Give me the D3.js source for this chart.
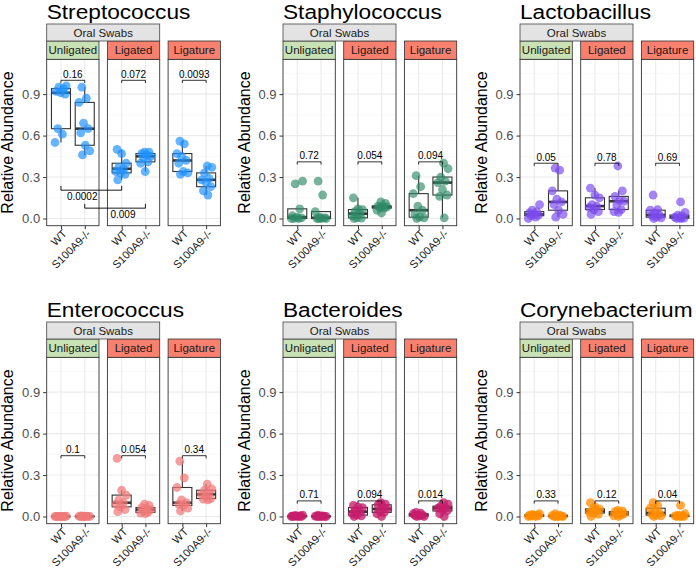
<!DOCTYPE html>
<html><head><meta charset="utf-8">
<script src="https://cdn.jsdelivr.net/npm/d3@7"></script>
<style>
body{margin:0;background:#fff}
text{font-family:"Liberation Sans",Arial,Helvetica,sans-serif}
</style>
</head><body>
<svg id="chart" width="696" height="570"></svg>
<script>
// ---------------- data ----------------
const genera = ["Streptococcus","Staphylococcus","Lactobacillus","Enterococcus","Bacteroides","Corynebacterium"];
const sites = ["Unligated","Ligated","Ligature"];
const genotypes = ["WT","S100A9-/-"];
const yTicks = [0, 0.3, 0.6, 0.9];
const yMinorTicks = [0.15, 0.45, 0.75, 1.05];
const yTickLabels = ["0.0","0.3","0.6","0.9"];

// each genus: groups in order [Unligated WT, Unligated KO, Ligated WT, Ligated KO, Ligature WT, Ligature KO]
const streptococcus = [
  [0.55,0.61,0.65,0.90,0.91,0.92,0.94,0.95,0.96],
  [0.46,0.49,0.53,0.62,0.65,0.69,0.84,0.87,0.95],
  [0.28,0.32,0.33,0.34,0.36,0.37,0.40,0.47,0.50],
  [0.34,0.40,0.41,0.44,0.45,0.46,0.47,0.48,0.48],
  [0.32,0.33,0.34,0.40,0.42,0.45,0.47,0.54,0.56],
  [0.17,0.20,0.23,0.26,0.28,0.29,0.33,0.37,0.38]
];
const staphylococcus = [
  [0,0,0,0.005,0.01,0.02,0.07,0.25,0.27],
  [0,0,0,0,0.005,0.01,0.05,0.17,0.27],
  [0,0.003,0.005,0.02,0.035,0.05,0.065,0.07,0.15],
  [0.04,0.06,0.075,0.08,0.085,0.09,0.09,0.11,0.12],
  [0,0.005,0.01,0.03,0.06,0.09,0.18,0.23,0.31],
  [0.005,0.16,0.17,0.21,0.26,0.27,0.30,0.36,0.40]
];
const lactobacillus = [
  [0,0.01,0.02,0.025,0.03,0.04,0.05,0.06,0.10],
  [0.01,0.03,0.06,0.10,0.12,0.14,0.20,0.35,0.365],
  [0.03,0.05,0.065,0.08,0.09,0.10,0.15,0.17,0.22],
  [0.045,0.05,0.065,0.10,0.125,0.13,0.16,0.20,0.38],
  [0,0.005,0.01,0.02,0.025,0.04,0.06,0.065,0.17],
  [0,0,0.003,0.005,0.01,0.02,0.025,0.045,0.12]
];
const enterococcus = [
  [0,0,0,0,0,0,0,0,0.003],
  [0,0,0,0,0,0,0.002,0.003,0.005],
  [0.035,0.05,0.07,0.09,0.10,0.12,0.155,0.19,0.42],
  [0.02,0.025,0.03,0.04,0.05,0.055,0.065,0.08,0.09],
  [0.04,0.06,0.08,0.09,0.10,0.12,0.21,0.28,0.40],
  [0.12,0.125,0.13,0.15,0.16,0.17,0.19,0.20,0.235]
];
const bacteroides = [
  [0,0,0,0,0.002,0.003,0.005,0.008,0.01],
  [0,0,0,0,0,0.002,0.003,0.005,0.01],
  [0,0.005,0.01,0.02,0.035,0.04,0.065,0.07,0.08],
  [0,0.02,0.03,0.04,0.055,0.07,0.085,0.09,0.10],
  [0,0,0.005,0.008,0.01,0.012,0.02,0.025,0.03],
  [0,0.02,0.04,0.05,0.06,0.065,0.075,0.09,0.10]
];
const corynebacterium = [
  [0,0,0.003,0.005,0.008,0.01,0.012,0.015,0.02],
  [0,0,0,0,0.003,0.005,0.008,0.01,0.02],
  [0,0.015,0.025,0.03,0.04,0.045,0.055,0.07,0.10],
  [0,0.005,0.01,0.015,0.02,0.025,0.035,0.04,0.045],
  [0,0.005,0.01,0.015,0.025,0.04,0.06,0.08,0.10],
  [0,0,0,0.003,0.005,0.008,0.01,0.02,0.08]
];
const pStreptococcus = ["0.16","0.072","0.0093"];
const pStaphylococcus = ["0.72","0.054","0.094"];
const pLactobacillus = ["0.05","0.78","0.69"];
const pEnterococcus = ["0.1","0.054","0.34"];
const pBacteroides = ["0.71","0.094","0.014"];
const pCorynebacterium = ["0.33","0.12","0.04"];
const bracketHeights = [1.0, 0.41, 0.40, 0.44, 0.113, 0.113];
// cross-site comparisons (Streptococcus): Unligated vs Ligated, same genotype
const crossP = ["0.0002","0.009"];
const crossHeights = [0.205, 0.075];
const crossGenotype = ["WT","S100A9-/-"];

// ---------------- styles ----------------
const values = [streptococcus, staphylococcus, lactobacillus, enterococcus, bacteroides, corynebacterium];
const pvals = [pStreptococcus, pStaphylococcus, pLactobacillus, pEnterococcus, pBacteroides, pCorynebacterium];
const pointColors = ["#1E90FF","#2E8B67","#7A4AEE","#F07878","#C71E6C","#FF8C00"];
const pointOpacity = [0.68,0.65,0.68,0.72,0.78,0.75];
const siteFill = {"Unligated":"#c8e1b5","Ligated":"#f8806f","Ligature":"#f8806f"};

const colLeft = [46.7, 283, 520];
const rowTop = [59.3, 357.3];
const panelW = 52.3, gap = 8.4, panelH = 166.4;

const svg = d3.select("#chart");
svg.append("rect").attr("width",696).attr("height",570).attr("fill","#fff");

function boxStats(arr){
  const s = arr.slice().sort(d3.ascending);
  const q1 = d3.quantile(s,0.25), med = d3.quantile(s,0.5), q3 = d3.quantile(s,0.75);
  const iqr = q3 - q1;
  const lo = d3.min(s.filter(v => v >= q1 - 1.5*iqr));
  const hi = d3.max(s.filter(v => v <= q3 + 1.5*iqr));
  return {q1, med, q3, lo, hi};
}

genera.forEach((genus, gi) => {
  const col = gi % 3, row = Math.floor(gi / 3);
  const left = colLeft[col], top = rowTop[row];
  const y = d3.scaleLinear().domain([-0.052, 1.152]).range([top + panelH, top]);
  const g = svg.append("g");

  // title
  g.append("text").attr("transform", `translate(${left},${top - 40}) scale(1.08,1)`)
    .attr("font-size", 21).attr("fill", "#000").text(genus);

  // y axis
  const yAxis = d3.axisLeft(y).tickValues(yTicks).tickFormat((d,i) => yTickLabels[i]).tickSize(3.5).tickPadding(3);
  const ya = g.append("g").attr("transform", `translate(${left},0)`).call(yAxis);
  ya.select(".domain").remove();
  ya.selectAll(".tick line").attr("stroke", "#333").attr("stroke-width", 1);
  ya.selectAll(".tick text").attr("font-size", 13).attr("fill", "#4d4d4d")
    .style("font-family", '"Liberation Sans",Arial,sans-serif');

  g.append("text")
    .attr("transform", `translate(${left - 33.4},${top + panelH/2}) rotate(-90)`)
    .attr("text-anchor", "middle").attr("font-size", 16).attr("fill", "#000")
    .text("Relative Abundance");

  const xScales = [];
  sites.forEach((site, si) => {
    const pl = left + si * (panelW + gap);
    const x = d3.scalePoint().domain(genotypes).range([pl, pl + panelW]).padding(0.6);
    xScales.push(x);
    const step = x.step();
    const pg = g.append("g");

    // background & grid
    pg.append("rect").attr("x", pl).attr("y", top).attr("width", panelW).attr("height", panelH).attr("fill", "#fff");
    pg.selectAll(".minor").data(yMinorTicks).join("line")
      .attr("x1", pl).attr("x2", pl + panelW).attr("y1", d => y(d)).attr("y2", d => y(d))
      .attr("stroke", "#f3f3f3").attr("stroke-width", 0.6);
    pg.selectAll(".major").data(yTicks).join("line")
      .attr("x1", pl).attr("x2", pl + panelW).attr("y1", d => y(d)).attr("y2", d => y(d))
      .attr("stroke", "#ebebeb").attr("stroke-width", 1.1);
    pg.selectAll(".vgrid").data(genotypes).join("line")
      .attr("x1", d => x(d)).attr("x2", d => x(d)).attr("y1", top).attr("y2", top + panelH)
      .attr("stroke", "#ebebeb").attr("stroke-width", 1.1);

    // boxes
    genotypes.forEach((gt, ti) => {
      const vals = values[gi][si*2 + ti];
      const st = boxStats(vals);
      const cx = x(gt), hw = 0.4 * step;
      const bg = pg.append("g").attr("stroke", "#333").attr("fill", "#fff");
      bg.append("line").attr("x1", cx).attr("x2", cx).attr("y1", y(st.hi)).attr("y2", y(st.q3)).attr("stroke-width", 1.1);
      bg.append("line").attr("x1", cx).attr("x2", cx).attr("y1", y(st.q1)).attr("y2", y(st.lo)).attr("stroke-width", 1.1);
      bg.append("rect").attr("x", cx - hw).attr("y", y(st.q3)).attr("width", 2*hw)
        .attr("height", Math.max(0, y(st.q1) - y(st.q3))).attr("stroke-width", 1.1);
      bg.append("line").attr("x1", cx - hw).attr("x2", cx + hw).attr("y1", y(st.med)).attr("y2", y(st.med))
        .attr("stroke-width", 2.6);
    });

    // jittered points (deterministic offsets)
    genotypes.forEach((gt, ti) => {
      const vals = values[gi][si*2 + ti];
      pg.selectAll(null).data(vals).join("circle")
        .attr("cx", (d,i) => x(gt) + ((((i * 0.618034 + ti*0.31 + si*0.17) % 1) - 0.5) * 0.5) * step)
        .attr("cy", d => y(d))
        .attr("r", 4.4)
        .attr("fill", pointColors[gi]).attr("fill-opacity", pointOpacity[gi]);
    });

    // border
    pg.append("rect").attr("x", pl).attr("y", top).attr("width", panelW).attr("height", panelH)
      .attr("fill", "none").attr("stroke", "#333").attr("stroke-width", 0.9);

    // x axis
    const xa = pg.append("g").attr("transform", `translate(0,${top + panelH})`)
      .call(d3.axisBottom(x).tickSize(3.5).tickFormat(""));
    xa.select(".domain").remove();
    xa.selectAll(".tick line").attr("stroke", "#333");
    pg.selectAll(".xlab").data(genotypes).join("text")
      .attr("transform", d => `translate(${x(d) + 1},${top + panelH + 3}) rotate(-45)`)
      .attr("text-anchor", "end").attr("dy", "0.72em")
      .attr("font-size", 11).attr("fill", "#1a1a1a").text(d => d);

    // site strip
    pg.append("rect").attr("x", pl).attr("y", top - 18.3).attr("width", panelW).attr("height", 18.3)
      .attr("fill", siteFill[site]).attr("stroke", "#333").attr("stroke-width", 0.8);
    pg.append("text").attr("x", pl + panelW/2).attr("y", top - 9.15).attr("dy", "0.36em")
      .attr("text-anchor", "middle").attr("font-size", 11.5).attr("fill", "#1a1a1a").text(site);

    // within-site comparison bracket
    const by = y(bracketHeights[gi]);
    const x1 = x(genotypes[0]), x2 = x(genotypes[1]);
    pg.append("path").attr("d", `M${x1},${by + 2.7}V${by}H${x2}V${by + 2.7}`)
      .attr("fill", "none").attr("stroke", "#000").attr("stroke-width", 0.8);
    pg.append("text").attr("x", (x1 + x2)/2).attr("y", by - 2.5)
      .attr("text-anchor", "middle").attr("font-size", 10).attr("fill", "#000").text(pvals[gi][si]);
  });

  // Oral Swabs strip spanning Unligated + Ligated
  const osL = xScales[0].range()[0], osR = xScales[1].range()[1];
  g.append("rect").attr("x", osL).attr("y", top - 35.3).attr("width", osR - osL).attr("height", 17)
    .attr("fill", "#e3e3e3").attr("stroke", "#444").attr("stroke-width", 0.8);
  g.append("text").attr("x", (osL + osR)/2).attr("y", top - 26.8).attr("dy", "0.36em")
    .attr("text-anchor", "middle").attr("font-size", 11.5).attr("fill", "#1a1a1a").text("Oral Swabs");

  // cross-site brackets (Streptococcus only)
  if (gi === 0) {
    const labelFrac = [0.35, 0.63];
    crossP.forEach((p, k) => {
      const gt = crossGenotype[k];
      const xa1 = xScales[0](gt), xa2 = xScales[1](gt);
      const cy = y(crossHeights[k]);
      g.append("path").attr("d", `M${xa1},${cy - 4.3}V${cy}H${xa2}V${cy - 4.3}`)
        .attr("fill", "none").attr("stroke", "#000").attr("stroke-width", 0.9);
      g.append("text").attr("x", xa1 + (xa2 - xa1) * labelFrac[k]).attr("y", cy + 9.5)
        .attr("text-anchor", "middle").attr("font-size", 10).attr("fill", "#000").text(p);
    });
  }
});
</script>
</body></html>
